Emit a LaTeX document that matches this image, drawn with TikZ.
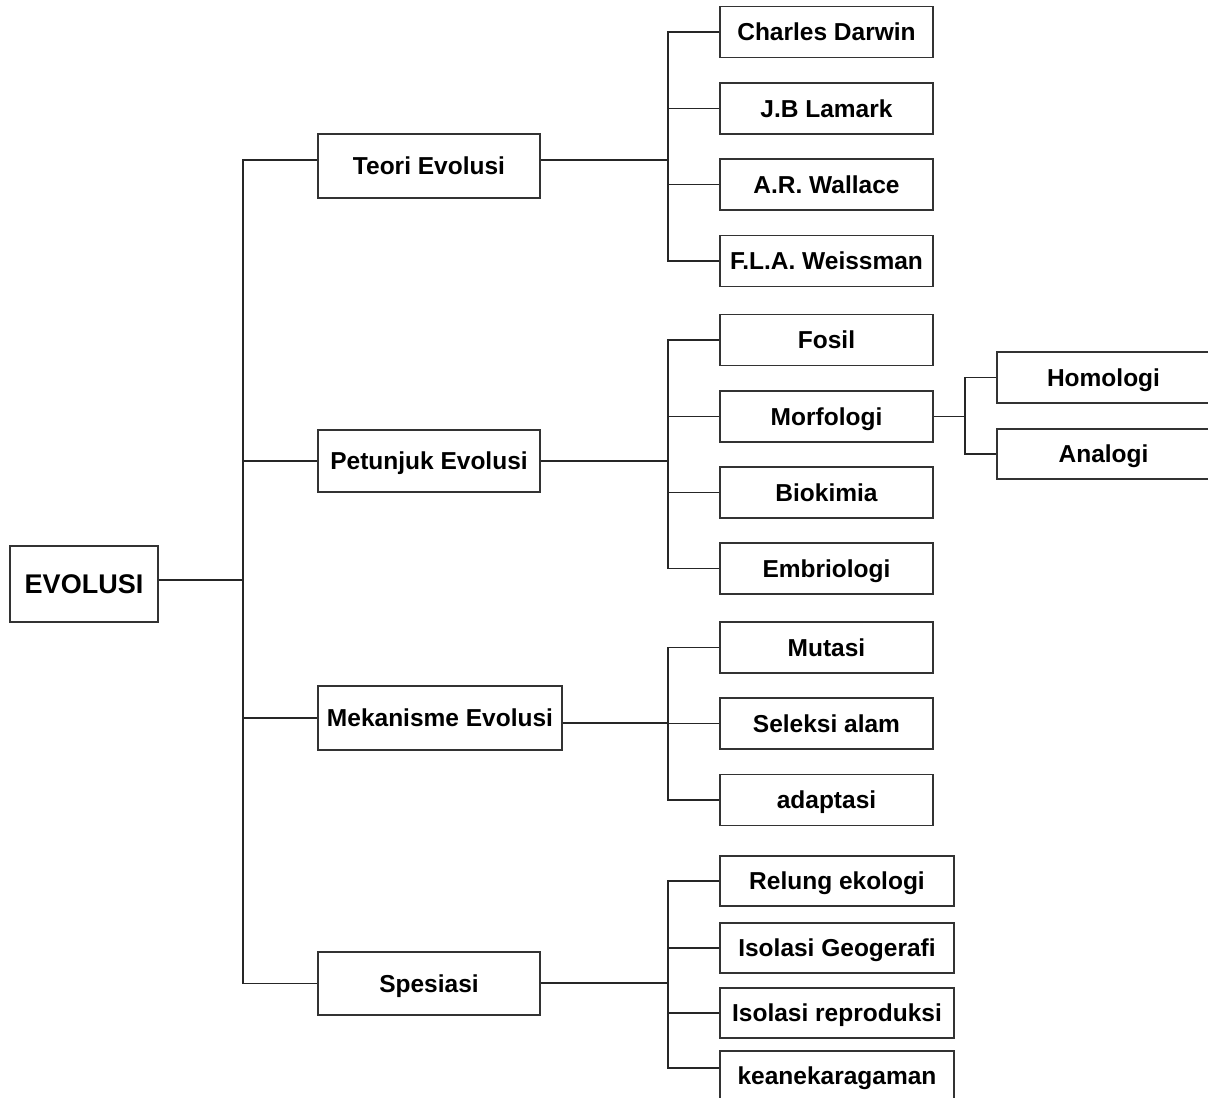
\documentclass[tikz,border=0pt]{standalone}
\usepackage{fontspec}
\setmainfont{Liberation Sans}
\begin{document}
\begin{tikzpicture}[x=1pt,y=-1pt,
  box/.style={draw=black!80,line width=1.3pt,fill=white,inner sep=0pt,
    text height=17.4pt,text depth=0pt,
    font=\bfseries\fontsize{24.5}{28}\selectfont},
  conn/.style={line width=1.3pt,black!85}]
\useasboundingbox (0,0) rectangle (1208,1098);
% root
\node[box,minimum width=148pt,minimum height=76pt,text height=19.4pt,font=\bfseries\fontsize{27}{32}\selectfont] (evolusi) at (84,584) {EVOLUSI};
% level 1
\node[box,minimum width=222pt,minimum height=64pt] (teori) at (429,166) {Teori Evolusi};
\node[box,minimum width=222pt,minimum height=62pt] (petunjuk) at (429,461) {Petunjuk Evolusi};
\node[box,minimum width=244pt,minimum height=64pt] (mekanisme) at (440,718) {Mekanisme Evolusi};
\node[box,minimum width=222pt,minimum height=63pt] (spesiasi) at (429,983.5) {Spesiasi};
% level 2
\tikzset{leaf/.style={box,minimum width=213pt,minimum height=51pt}}
\node[leaf] (darwin) at (826.5,32) {Charles Darwin};
\node[leaf] (lamark) at (826.5,108.5) {J.B Lamark};
\node[leaf] (wallace) at (826.5,184.5) {A.R. Wallace};
\node[leaf] (weissman) at (826.5,261) {F.L.A. Weissman};
\node[leaf] (fosil) at (826.5,340) {Fosil};
\node[leaf] (morfologi) at (826.5,416.5) {Morfologi};
\node[leaf] (biokimia) at (826.5,492.5) {Biokimia};
\node[leaf] (embriologi) at (826.5,568.5) {Embriologi};
\node[leaf] (mutasi) at (826.5,647.5) {Mutasi};
\node[leaf] (seleksi) at (826.5,723.5) {Seleksi alam};
\node[leaf] (adaptasi) at (826.5,800) {adaptasi};
\tikzset{wleaf/.style={box,minimum width=234pt,minimum height=50pt}}
\node[wleaf] (relung) at (837,881) {Relung ekologi};
\node[wleaf] (geografi) at (837,948) {Isolasi Geogerafi};
\node[wleaf] (reproduksi) at (837,1013) {Isolasi reproduksi};
\node[wleaf] (kean) at (837,1076) {keanekaragaman};
% level 3
\node[leaf,minimum height=51pt] (homologi) at (1103.5,377.5) {Homologi};
\node[leaf,minimum height=50pt] (analogi) at (1103.5,454) {Analogi};
% bus coordinates
\coordinate (trunk) at (243,580);
\coordinate (b1) at (668,160);
\coordinate (b2) at (668,461);
\coordinate (b3) at (668,723);
\coordinate (b4) at (668,983);
\coordinate (b5) at (965,416.5);
% root connections
\draw[conn] (evolusi.east |- trunk) -- (trunk);
\draw[conn] ([yshift=6pt]teori.west) -| (trunk) |- (spesiasi.west);
\draw[conn] (trunk |- petunjuk.west) -- (petunjuk.west);
\draw[conn] (trunk |- mekanisme.west) -- (mekanisme.west);
% teori
\draw[conn] (teori.east |- b1) -- (b1);
\draw[conn] (darwin.west) -| (b1) |- (weissman.west);
\draw[conn] (b1 |- lamark.west) -- (lamark.west);
\draw[conn] (b1 |- wallace.west) -- (wallace.west);
% petunjuk
\draw[conn] (petunjuk.east) -- (b2);
\draw[conn] (fosil.west) -| (b2) |- (embriologi.west);
\draw[conn] (b2 |- morfologi.west) -- (morfologi.west);
\draw[conn] (b2 |- biokimia.west) -- (biokimia.west);
% mekanisme
\draw[conn] (mekanisme.east |- b3) -- (b3);
\draw[conn] (mutasi.west) -| (b3) |- (adaptasi.west);
\draw[conn] (b3 |- seleksi.west) -- (seleksi.west);
% spesiasi
\draw[conn] (spesiasi.east |- b4) -- (b4);
\draw[conn] (relung.west) -| (b4) |- ([yshift=8pt]kean.west);
\draw[conn] (b4 |- geografi.west) -- (geografi.west);
\draw[conn] (b4 |- reproduksi.west) -- (reproduksi.west);
% morfologi
\draw[conn] (morfologi.east) -- (b5);
\draw[conn] (homologi.west) -| (b5) |- (analogi.west);
\end{tikzpicture}
\end{document}
